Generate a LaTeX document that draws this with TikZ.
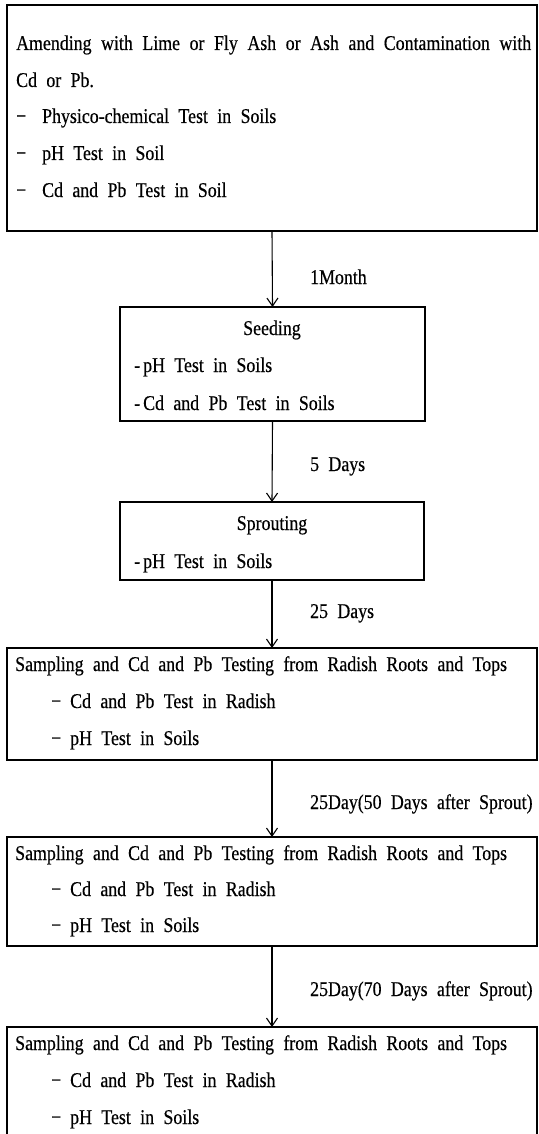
\documentclass[tikz,border=0pt]{standalone}
\usepackage{fontspec}
\setmainfont{Liberation Serif}[FakeStretch=0.85, WordSpace={2.1,1,1}, FakeBold=0.4]
\usetikzlibrary{arrows.meta}
\begin{document}
\begin{tikzpicture}[x=1pt,y=-1pt,
  box/.style={draw, line width=1.2pt, inner sep=0pt, outer sep=0pt, anchor=north west},
  txt/.style={anchor=base west, inner sep=0pt, font=\fontsize{21}{36}\selectfont},
  ctr/.style={anchor=base, inner sep=0pt, font=\fontsize{21}{36}\selectfont},
  arr/.style={line width=1.1pt, -{Straight Barb[length=8pt,width=11pt,line width=1.1pt]}}]
\useasboundingbox (0,0) rectangle (538,1134);
\fill[white] (0,0) rectangle (538,1134);
% boxes
\node[box, minimum width=530pt, minimum height=226pt] (b1) at (7,5) {};
\node[box, minimum width=305pt, minimum height=114pt] (b2) at (120,307) {};
\node[box, minimum width=304pt, minimum height=78pt] (b3) at (120,502) {};
\node[box, minimum width=530pt, minimum height=112pt] (b4) at (7,648) {};
\node[box, minimum width=530pt, minimum height=109pt] (b5) at (7,837) {};
\node[box, minimum width=530pt, minimum height=200pt] (b6) at (7,1027) {};
% box 1 text
\node[txt] (t11) at (16,50) {\makebox[515pt][s]{Amending with Lime or Fly Ash or Ash and Contamination with}};
\node[txt] (t12) at (16,87) {Cd or Pb.};
\node[txt] (t13) at (16,123) {\makebox[26pt][l]{−}Physico-chemical Test in Soils};
\node[txt] (t14) at (16,160) {\makebox[26pt][l]{−}pH Test in Soil};
\node[txt] (t15) at (16,197) {\makebox[26pt][l]{−}Cd and Pb Test in Soil};
% box 2 text
\node[ctr] (t21) at (272,335) {Seeding};
\node[txt] (t22) at (134,372) {\makebox[9pt][l]{-}pH Test in Soils};
\node[txt] (t23) at (134,410) {\makebox[9pt][l]{-}Cd and Pb Test in Soils};
% box 3 text
\node[ctr] (t31) at (272,530) {Sprouting};
\node[txt] (t32) at (134,568) {\makebox[9pt][l]{-}pH Test in Soils};
% box 4 text
\node[txt] (t41) at (15,671) {Sampling and Cd and Pb Testing from Radish Roots and Tops};
\node[txt] (t42) at (51,708) {\makebox[19pt][l]{−}Cd and Pb Test in Radish};
\node[txt] (t43) at (51,745) {\makebox[19pt][l]{−}pH Test in Soils};
% box 5 text
\node[txt] (t51) at (15,860) {Sampling and Cd and Pb Testing from Radish Roots and Tops};
\node[txt] (t52) at (51,896) {\makebox[19pt][l]{−}Cd and Pb Test in Radish};
\node[txt] (t53) at (51,932) {\makebox[19pt][l]{−}pH Test in Soils};
% box 6 text
\node[txt] (t61) at (15,1050) {Sampling and Cd and Pb Testing from Radish Roots and Tops};
\node[txt] (t62) at (51,1087) {\makebox[19pt][l]{−}Cd and Pb Test in Radish};
\node[txt] (t63) at (51,1124) {\makebox[19pt][l]{−}pH Test in Soils};
% connectors
\draw[arr] (b1.south) -- (b2.north);
\draw[arr] (b2.south) -- (b3.north);
\draw[arr] (b3.south) -- (b4.north);
\draw[arr] (b4.south) -- (b5.north);
\draw[arr] (b5.south) -- (b6.north);
% labels
\node[txt] (l1) at (310,284) {1Month};
\node[txt] (l2) at (310,471) {5 Days};
\node[txt] (l3) at (310,618) {25 Days};
\node[txt] (l4) at (310,809) {25Day(50 Days after Sprout)};
\node[txt] (l5) at (310,996) {25Day(70 Days after Sprout)};
\end{tikzpicture}
\end{document}
